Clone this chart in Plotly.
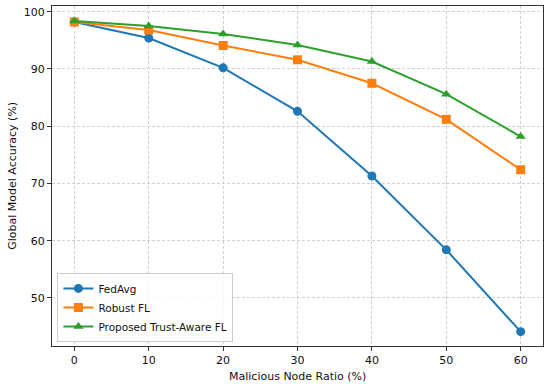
import plotly.graph_objects as go

ratios = [0, 10, 20, 30, 40, 50, 60]
fedavg = [98.2, 95.4, 90.2, 82.6, 71.3, 58.4, 44.1]
robust_fl = [98.2, 96.8, 94.1, 91.6, 87.5, 81.2, 72.4]
trust_fl = [98.4, 97.5, 96.1, 94.2, 91.3, 85.6, 78.2]
y_ticks = [50, 60, 70, 80, 90, 100]

series = [
    ("FedAvg", fedavg, "#1f77b4", "circle"),
    ("Robust FL", robust_fl, "#ff7f0e", "square"),
    ("Proposed Trust-Aware FL", trust_fl, "#2ca02c", "triangle-up"),
]

fig = go.Figure()
for name, vals, color, sym in series:
    fig.add_trace(go.Scatter(
        x=ratios, y=vals, name=name, mode="lines+markers",
        line=dict(color=color, width=2),
        marker=dict(symbol=sym, size=9, color=color),
    ))

font = dict(family="DejaVu Sans", size=11, color="#111")
axis_common = dict(
    showline=True, linecolor="#333", linewidth=1.2, mirror=True,
    ticks="outside", ticklen=4, tickcolor="#333",
    showgrid=True, gridcolor="#d0d0d0", griddash="3px,2px", gridwidth=1,
    zeroline=False, tickfont=font, automargin=False,
)
fig.update_layout(
    width=550, height=384,
    margin=dict(l=52, r=7, t=6, b=38),
    paper_bgcolor="white", plot_bgcolor="white",
    font=font,
    xaxis=dict(range=[-3, 63], tickvals=ratios, **axis_common),
    yaxis=dict(range=[41.6, 101.0], tickvals=y_ticks, **axis_common),
    legend=dict(x=0.011, y=0.012, xanchor="left", yanchor="bottom",
                bgcolor="rgba(255,255,255,0.8)", bordercolor="#cccccc", borderwidth=1,
                font=dict(family="DejaVu Sans", size=10.5, color="#111"),
                tracegroupgap=0, itemwidth=30),
    showlegend=True,
    annotations=[
        dict(text="Malicious Node Ratio (%)", xref="paper", yref="paper",
             x=0.5, y=-0.09, xanchor="center", yanchor="middle",
             showarrow=False, font=font),
        dict(text="Global Model Accuracy (%)", xref="paper", yref="paper",
             x=-0.082, y=0.5, xanchor="center", yanchor="middle", textangle=-90,
             showarrow=False, font=font),
    ],
)
fig.write_html("out.html", config={"displayModeBar": False},
               post_script="document.body.style.margin='0';document.body.style.overflow='hidden';")
